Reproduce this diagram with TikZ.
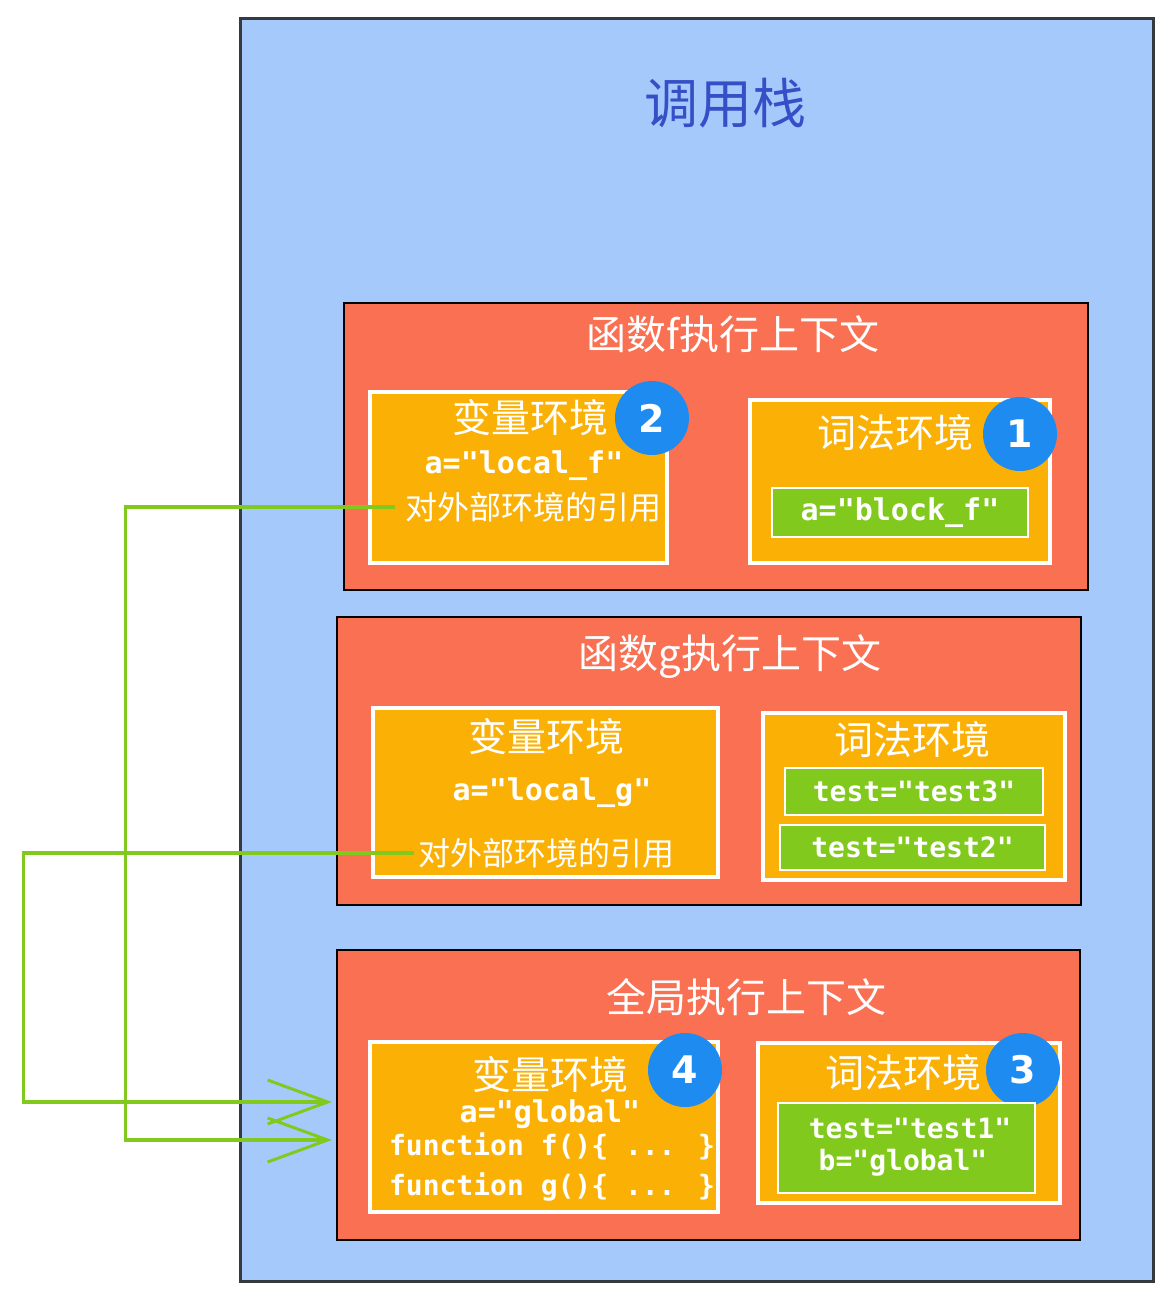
\documentclass[tikz,border=0pt]{standalone}
\usepackage{fontspec}
\newfontfamily\cjk{Noto Sans CJK SC}
\newfontfamily\code{DejaVu Sans Mono}
\newfontfamily\digit{DejaVu Sans}
\usepackage{xcolor}
\definecolor{stackblue}{RGB}{166,201,252}
\definecolor{stackdark}{RGB}{52,58,64}
\definecolor{titleblue}{RGB}{54,79,199}
\definecolor{ctxred}{RGB}{250,112,83}
\definecolor{envorange}{RGB}{250,176,5}
\definecolor{valgreen}{RGB}{130,201,30}
\definecolor{badgeblue}{RGB}{30,139,240}
\usepackage{tikz}
\usetikzlibrary{arrows.meta}
\newcommand{\fsize}[1]{\fontsize{#1}{#1}\selectfont}
\tikzset{
    common/.style={anchor=center, rectangle, inner sep=0pt},
    stack/.style={common, draw=stackdark, line width=3pt, fill=stackblue},
    ctx/.style={common, draw=black, line width=2pt, fill=ctxred},
    env/.style={common, draw=white, line width=4pt, fill=envorange},
    val/.style={common, draw=white, line width=2pt, fill=valgreen},
    badge/.style={circle, fill=badgeblue, minimum size=74pt, inner sep=0pt, text=white, font=\digit\bfseries\fsize{38}},
    ctxtitle/.style={text=white, font=\cjk\fsize{40}, inner sep=0pt},
    envtitle/.style={text=white, font=\cjk\fsize{39}, inner sep=0pt},
    reftext/.style={text=white, font=\cjk\fsize{32}},
    codetext/.style={text=white, font=\code\bfseries\fsize{30}, inner sep=0pt},
    smallcode/.style={codetext, font=\code\bfseries\fsize{28}},
    link/.style={draw=valgreen, line width=3.5pt, -{Straight Barb[length=60pt, width=44pt, line width=3pt]}}
}
\begin{document}
\begin{tikzpicture}[x=1pt, y=-1pt]
    \useasboundingbox (0,0) rectangle (1172,1301);

    % call stack
    \node[stack, minimum width=913pt, minimum height=1263pt] (stack) at (696.5,649.5) {};
    \node[text=titleblue, font=\cjk\fsize{54}] (stacktitle) at (725,103) {调用栈};

    % context of f
    \node[ctx, minimum width=744pt, minimum height=287pt] (ctxf) at (716,446.5) {};
    \node[ctxtitle] (ctxftitle) at (733,334) {函数f执行上下文};
    \node[env, minimum width=297pt, minimum height=171pt] (varf) at (518.5,477.5) {};
    \node[envtitle] (varftitle) at (530,418) {变量环境};
    \node[codetext] (localf) at (524,466) {a="local\_f"};
    \node[reftext] (reff) at (533,507) {对外部环境的引用};
    \node[badge] (badge2) at (652,418) {2};
    \node[env, minimum width=300pt, minimum height=163pt] (lexf) at (900,481.5) {};
    \node[envtitle] (lexftitle) at (895,433) {词法环境};
    \node[badge] (badge1) at (1020,434) {1};
    \node[val, minimum width=256pt, minimum height=49pt] (blockf) at (900,512.5) {};
    \node[codetext] at (blockf) {a="block\_f"};

    % context of g
    \node[ctx, minimum width=744pt, minimum height=288pt] (ctxg) at (709,761) {};
    \node[ctxtitle] (ctxgtitle) at (730,657) {函数g执行上下文};
    \node[env, minimum width=345pt, minimum height=169pt] (varg) at (545.5,792.5) {};
    \node[envtitle] (vargtitle) at (546,737) {变量环境};
    \node[codetext] (localg) at (552,793) {a="local\_g"};
    \node[reftext] (refg) at (546,853) {对外部环境的引用};
    \node[env, minimum width=302pt, minimum height=167pt] (lexg) at (914,796.5) {};
    \node[envtitle] (lexgtitle) at (912,740) {词法环境};
    \node[val, minimum width=258pt, minimum height=47pt] (test3) at (914,791.5) {};
    \node[smallcode] at (test3) {test="test3"};
    \node[val, minimum width=265pt, minimum height=45pt] (test2) at (912.5,847.5) {};
    \node[smallcode] at (test2) {test="test2"};

    % global context
    \node[ctx, minimum width=743pt, minimum height=290pt] (glob) at (708.5,1095) {};
    \node[ctxtitle] (globtitle) at (746,997) {全局执行上下文};
    \node[env, minimum width=348pt, minimum height=170pt] (varglob) at (544,1127) {};
    \node[envtitle] (varglobtitle) at (550,1075) {变量环境};
    \node[codetext] (aglobal) at (550,1114) {a="global"};
    \node[smallcode] (funcf) at (552,1146) {function f()\{ ... \}};
    \node[smallcode] (funcg) at (552,1187) {function g()\{ ... \}};
    \node[badge] (badge4) at (685,1070) {4};
    \node[env, minimum width=302pt, minimum height=160pt] (lexglob) at (909,1123) {};
    \node[envtitle] (lexglobtitle) at (903,1073) {词法环境};
    \node[badge] (badge3) at (1023,1070) {3};
    \node[val, minimum width=257pt, minimum height=90pt] (valglob) at (906.5,1148) {};
    \node[smallcode] (test1) at (910,1128) {test="test1"};
    \node[smallcode] (bglobal) at (903,1163) {b="global"};

    % outer references
    \draw[link] ([xshift=-6pt]reff.west) -- ++(-270,0) |- ([xshift=-4pt, yshift=-45pt]glob.west);
    \draw[link] (refg.west) -- ++(-391,0) |- ([xshift=-4pt, yshift=-7pt]glob.west);
\end{tikzpicture}
\end{document}
